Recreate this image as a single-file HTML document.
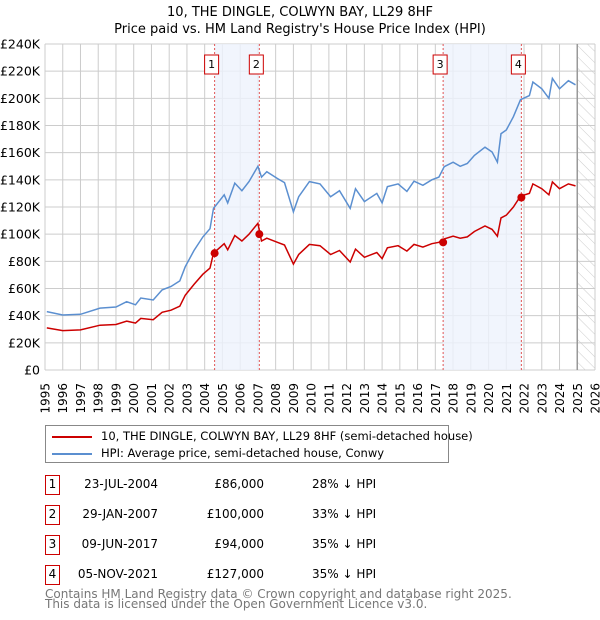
<!DOCTYPE html>
<html><head><meta charset="utf-8"><style>
body{margin:0;background:#fff;font-family:"DejaVu Sans","Liberation Sans",sans-serif;}
#wrap{position:relative;width:600px;height:620px;overflow:hidden;}
</style></head><body>
<div id="wrap">
<svg id="chart" width="600" height="620" style="position:absolute;left:0;top:0;font-family:'DejaVu Sans','Liberation Sans',sans-serif;">
<defs><pattern id="hatch" width="8" height="8" patternUnits="userSpaceOnUse" patternTransform="rotate(-45)"><line x1="0" y1="0" x2="0" y2="8" stroke="#ccc" stroke-width="1"/></pattern></defs>
<text x="300" y="16" text-anchor="middle" font-size="13">10, THE DINGLE, COLWYN BAY, LL29 8HF</text>
<text x="300" y="33" text-anchor="middle" font-size="13">Price paid vs. HM Land Registry's House Price Index (HPI)</text>
<g id="grid"></g><g id="bands"></g><g id="series"></g><g id="axes"></g>
</svg>
<div style="position:absolute;left:45px;top:425px;width:402px;height:36px;border:1px solid #888;font-size:11.5px;white-space:nowrap;">
 <div style="position:absolute;left:6px;top:3px;"><span style="display:inline-block;width:40px;height:2px;background:#cc0000;vertical-align:middle;margin-right:9px;"></span>10, THE DINGLE, COLWYN BAY, LL29 8HF (semi-detached house)</div>
 <div style="position:absolute;left:6px;top:20px;"><span style="display:inline-block;width:40px;height:2px;background:#5b8fd0;vertical-align:middle;margin-right:9px;"></span>HPI: Average price, semi-detached house, Conwy</div>
</div>
<div id="table"></div>
<div style="position:absolute;left:45px;top:589px;font-size:12px;color:#777;line-height:10px;">Contains HM Land Registry data © Crown copyright and database right 2025.<br>This data is licensed under the Open Government Licence v3.0.</div>
</div>
<script>
const hpiYears=[1995.1,1996,1997,1998.1,1999,1999.6,2000.1,2000.4,2001.1,2001.6,2002.1,2002.6,2002.9,2003.4,2003.9,2004.3,2004.5,2005.1,2005.3,2005.7,2006.1,2006.5,2007.0,2007.2,2007.5,2008.1,2008.5,2009.0,2009.3,2009.9,2010.5,2011.1,2011.6,2012.2,2012.5,2013.0,2013.7,2014.0,2014.3,2014.9,2015.4,2015.8,2016.3,2016.8,2017.2,2017.5,2018.0,2018.4,2018.8,2019.2,2019.8,2020.2,2020.5,2020.7,2021.0,2021.4,2021.8,2022.3,2022.5,2023.0,2023.4,2023.6,2024.0,2024.5,2024.9];
const hpiValues=[43,40.5,41,45.6,46.4,50.3,48,53,51.5,59,61.5,65.6,76,88,98,104,119,129,123,137.6,132,138.7,150,142,146,141,138,116.5,127.6,138.7,137,127.6,132,119,133.5,124,130,123,135,137,131.5,139,136,140,142,149.7,153,150,152,158,164,160.5,153,174,176.7,186.5,199,202,212,207,200,214.7,207,213,210];
const priceYears=hpiYears;
const priceValues=[31,29,29.5,33,33.5,36,34.5,38,37,42.5,44,47,55,63,70.5,75,86,93,88.5,99,95,100,108,95,97,94,92,78,85,92.5,91.5,85,88,79.5,89,83,86.5,82,90,91.5,87.5,92.5,90.5,93,94,96.5,98.5,97,98,102,106,103.5,98.5,112,114,120,128,130,137,133.5,129,138.5,133.5,137,135.5];
const saleLabels=["1","2","3","4"];
const saleYears=[2004.56,2007.08,2017.44,2021.85];
const saleValues=[86,100,94,127];
const saleDates=["23-JUL-2004","29-JAN-2007","09-JUN-2017","05-NOV-2021"];
const salePrices=["£86,000","£100,000","£94,000","£127,000"];
const saleDiffs=["28% ↓ HPI","33% ↓ HPI","35% ↓ HPI","35% ↓ HPI"];
const yTicks=[0,20,40,60,80,100,120,140,160,180,200,220,240];
const yTickLabels=["£0","£20K","£40K","£60K","£80K","£100K","£120K","£140K","£160K","£180K","£200K","£220K","£240K"];
const xTicks=[];for(let y=1995;y<=2026;y++)xTicks.push(y);

const X0=45,X1=595,Y0=370,Y1=44;
const xs=y=>X0+(y-1995)/31*(X1-X0);
const ys=v=>Y0-v/240*(Y0-Y1);
const NS="http://www.w3.org/2000/svg";
function mk(tag,attrs,parent){const e=document.createElementNS(NS,tag);for(const k in attrs)e.setAttribute(k,attrs[k]);parent.appendChild(e);return e;}
const grid=document.getElementById('grid'),bands=document.getElementById('bands'),series=document.getElementById('series'),axes=document.getElementById('axes');
yTicks.forEach((v,i)=>{
 const l=mk('line',{x1:X0,x2:X1,y1:ys(v),y2:ys(v),stroke:'#ccc','stroke-width':1},grid);
 
 
 const t=mk('text',{x:40,y:ys(v)+4.5,'text-anchor':'end','font-size':12.5,fill:'#000'},axes);
 t.textContent=yTickLabels[i];
 
 
});
xTicks.forEach(y=>{
 const l=mk('line',{x1:xs(y),x2:xs(y),y1:Y1,y2:Y0,stroke:'#ccc','stroke-width':1},grid);
 
 
 const t=mk('text',{x:0,y:0,'text-anchor':'end','font-size':12,transform:`translate(${xs(y)+4.5},383) rotate(-90)`},axes);
 t.textContent=String(y);
 
 
});
const h=mk('rect',{x:xs(2025),y:Y1,width:X1-xs(2025),height:Y0-Y1,fill:'url(#hatch)'},bands);


const hl=mk('line',{x1:xs(2025),x2:xs(2025),y1:Y1,y2:Y0,stroke:'#999','stroke-width':1.5},bands);


[[0,1],[2,3]].forEach(p=>{
 const r=mk('rect',{x:xs(saleYears[p[0]]),y:Y1,width:xs(saleYears[p[1]])-xs(saleYears[p[0]]),height:Y0-Y1,fill:'#eef3fc',opacity:0.8},bands);
 
 
});
saleYears.forEach((y,i)=>{
 const l=mk('line',{x1:xs(y),x2:xs(y),y1:Y1,y2:Y0,stroke:'#e05555','stroke-width':1,'stroke-dasharray':'2,2'},bands);
 
 
 const b=mk('rect',{x:xs(y)-10,y:55,width:14,height:19,fill:'#fff',stroke:'#cc0000','stroke-width':1},bands);
 
 
 const t=mk('text',{x:xs(y)-3,y:68,'text-anchor':'middle','font-size':11},bands);
 t.textContent=saleLabels[i];
 
 
});
const hp=mk('polyline',{points:hpiYears.map((y,i)=>xs(y).toFixed(1)+','+ys(hpiValues[i]).toFixed(1)).join(' '),fill:'none',stroke:'#5b8fd0','stroke-width':1.5},series);


const pp=mk('polyline',{points:priceYears.map((y,i)=>xs(y).toFixed(1)+','+ys(priceValues[i]).toFixed(1)).join(' '),fill:'none',stroke:'#cc0000','stroke-width':1.5},series);


saleYears.forEach((y,i)=>{
 const c=mk('circle',{cx:xs(y),cy:ys(saleValues[i]),r:4,fill:'#cc0000'},series);
 
 
});
const tb=document.getElementById('table');
saleLabels.forEach((lab,i)=>{
 const top=475+i*30;
 const row=document.createElement('div');
 
 
 row.style.cssText=`position:absolute;left:0;top:${top}px;width:600px;height:20px;font-size:12px;`;
 row.innerHTML=`<div style="position:absolute;left:45px;top:0;width:13px;height:18px;border:1px solid #cc0000;text-align:center;line-height:17px;">${lab}</div>`+
 `<div style="position:absolute;left:40px;width:118px;text-align:right;top:2px;">${saleDates[i]}</div>`+
 `<div style="position:absolute;left:160px;width:104px;text-align:right;top:2px;">${salePrices[i]}</div>`+
 `<div style="position:absolute;left:312px;top:2px;">${saleDiffs[i]}</div>`;
 tb.appendChild(row);
});
</script>
</body></html>
